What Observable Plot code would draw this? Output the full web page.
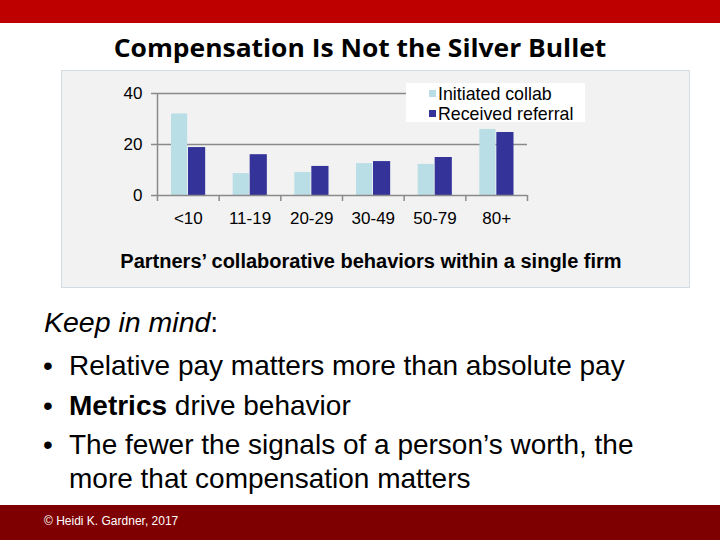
<!DOCTYPE html>
<html><head><meta charset="utf-8">
<script src="https://cdn.jsdelivr.net/npm/d3@7"></script>
<script src="https://cdn.jsdelivr.net/npm/@observablehq/plot@0.6"></script>
<style>
html,body{margin:0;padding:0;background:#fff;}
#page{position:relative;width:720px;height:540px;overflow:hidden;font-family:"Liberation Sans",Arial,sans-serif;color:#000;}
.abs{position:absolute;white-space:nowrap;line-height:1;}
#chart{position:absolute;left:0;top:70px;}
#chart svg{overflow:visible;}
.sw{display:inline-block;width:7px;height:7px;margin-right:2px;vertical-align:middle;position:relative;top:-2px;}
</style></head><body>
<div id="page">
  <div class="abs" style="left:0;top:0;width:720px;height:23px;background:#BE0000"></div>
  <div id="title" class="abs" style="left:360px;top:35px;font-family:'Open Sans',sans-serif;font-weight:700;font-size:25.5px;transform-origin:center;">Compensation Is Not the Silver Bullet</div>
  <div class="abs" style="left:61px;top:70px;width:627px;height:216px;background:#F2F2F2;border:1px solid #D3DDE1"></div>
  <div id="chart"></div>
  <div id="legend" class="abs" style="left:406px;top:83px;width:179px;height:39px;background:#fff;font-size:17.8px;"></div>
  <div id="caption" class="abs" style="left:371px;top:251px;font-weight:700;font-size:20px;"></div>
  <div class="abs" style="left:44px;top:308px;font-size:28.5px;"><i>Keep in mind</i>:</div>
  <div id="bullets"></div>
  <div class="abs" style="left:0;top:505px;width:720px;height:35px;background:#7F0000"></div>
  <div class="abs" style="left:44px;top:515px;font-size:12px;color:#fff;">© Heidi K. Gardner, 2017</div>
</div>
<script>
const categories = ["<10", "11-19", "20-29", "30-49", "50-79", "80+"];
const initiated = [32, 8.6, 9, 12.5, 12.2, 25.9];
const received = [18.8, 16, 11.4, 13.3, 14.9, 24.7];
const seriesNames = ["Initiated collab", "Received referral"];
const seriesColors = ["#B9DEE5", "#333399"];
const yTicks = [0, 20, 40];
const captionText = "Partners’ collaborative behaviors within a single firm";
const bulletLines = [
  {html: "Relative pay matters more than absolute pay", bullet: true, base: 376},
  {html: "<b>Metrics</b> drive behavior", bullet: true, base: 416},
  {html: "The fewer the signals of a person’s worth, the", bullet: true, base: 455},
  {html: "more that compensation matters", bullet: false, base: 488.5}
];

const rowsA = categories.map((c, i) => ({cat: c, v: initiated[i]}));
const rowsB = categories.map((c, i) => ({cat: c, v: received[i]}));

const mL = 157, mR = 193, W = 720;
const bw = (W - mL - mR) / categories.length;

const chart = Plot.plot({
  width: W, height: 162,
  marginLeft: mL, marginRight: mR, marginTop: 23, marginBottom: 37,
  style: {background: "transparent", fontFamily: "'Liberation Sans', Arial, sans-serif", fontSize: "17px", color: "#000"},
  x: {type: "band", domain: categories, padding: 0, round: false},
  y: {domain: [0, 40]},
  marks: [
    Plot.gridY(yTicks.filter(t => t > 0), {stroke: "#8A8A8A", strokeOpacity: 1, strokeWidth: 1.5}),
    Plot.barY(rowsA, {x: "cat", y: "v", fill: seriesColors[0], insetLeft: 14, insetRight: 31.5}),
    Plot.barY(rowsB, {x: "cat", y: "v", fill: seriesColors[1], insetLeft: 31, insetRight: 13.5}),
    Plot.ruleY([0], {stroke: "#8A8A8A", strokeWidth: 1.5}),
    Plot.ruleX([categories[0]], {dx: -bw / 2, stroke: "#8A8A8A", strokeWidth: 1.5}),
    Plot.ruleX(categories, {x: d => d, y1: 0, y2: 0, dx: -bw / 2, insetBottom: -6, stroke: "#8A8A8A", strokeWidth: 1.5}),
    Plot.ruleX([categories[categories.length - 1]], {y1: 0, y2: 0, dx: bw / 2, insetBottom: -6, stroke: "#8A8A8A", strokeWidth: 1.5}),
    Plot.axisY({ticks: yTicks, tickSize: 6, tickPadding: 9, stroke: "#8A8A8A", strokeWidth: 1.5, fill: "#000", fontSize: 17, label: null}),
    Plot.axisX({tickSize: 0, tickPadding: 16, fill: "#000", fontSize: 17, label: null})
  ]
});
document.getElementById("chart").appendChild(chart);

// legend
const lg = document.getElementById("legend");
seriesNames.forEach((n, i) => {
  const row = document.createElement("div");
  row.style.cssText = "position:absolute;left:23px;top:" + (3 + i * 20) + "px;white-space:nowrap;line-height:1;";
  row.innerHTML = '<span class="sw" style="background:' + seriesColors[i] + '"></span>' + n;
  lg.appendChild(row);
});

// caption
const cap = document.getElementById("caption");
cap.textContent = captionText;
cap.style.transform = "translateX(-50%)";

// bullets
const bl = document.getElementById("bullets");
bulletLines.forEach(l => {
  const size = 28;
  const top = l.base - 0.8465 * size;
  if (l.bullet) {
    const b = document.createElement("div");
    b.className = "abs";
    b.style.cssText += "left:43px;top:" + top + "px;font-size:" + size + "px;";
    b.textContent = "•";
    bl.appendChild(b);
  }
  const t = document.createElement("div");
  t.className = "abs";
  t.style.cssText += "left:69px;top:" + top + "px;font-size:" + size + "px;";
  t.innerHTML = l.html;
  bl.appendChild(t);
});

// fit title width
const ti = document.getElementById("title");
const k = 493 / ti.offsetWidth;
ti.style.transform = "translateX(-50%) scaleX(" + k + ")";
</script>
</body></html>
